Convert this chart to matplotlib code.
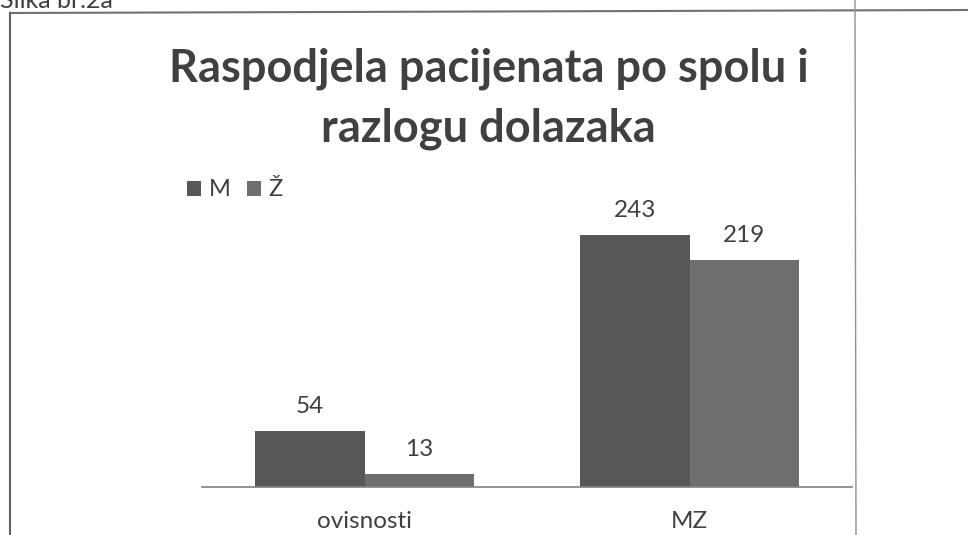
import numpy as np
import matplotlib.pyplot as plt
from matplotlib.lines import Line2D

categories = ['ovisnosti', 'MZ']
series_names = ['M', 'Ž']
m_values = [54, 243]
z_values = [13, 219]

plt.rcParams['font.family'] = ['Lato', 'DejaVu Sans']

fig = plt.figure(figsize=(9.68, 5.35), dpi=100)
ax = fig.add_axes([0.2087, 0.0897, 0.6715, 0.542])

x = np.arange(len(categories))
w = 0.338
colors = ['#575757', '#6e6e6e']
bars_m = ax.bar(x - w / 2, m_values, w, color=colors[0], label=series_names[0])
bars_z = ax.bar(x + w / 2, z_values, w, color=colors[1], label=series_names[1])

for bars in (bars_m, bars_z):
    for b in bars:
        ax.annotate(f'{int(b.get_height())}', (b.get_x() + b.get_width() / 2, b.get_height()),
                    xytext=(0, 10), textcoords='offset points', ha='center', va='bottom',
                    fontsize=17.5, color='#404040')

ax.set_xlim(-0.5, 1.5)
ax.set_ylim(0, 280)
ax.set_xticks(x)
ax.set_xticklabels(categories, fontsize=17.5, color='#404040')
ax.tick_params(axis='x', length=0, pad=17)
ax.set_yticks([])
for s in ['top', 'right', 'left']:
    ax.spines[s].set_visible(False)
ax.spines['bottom'].set_color('#808080')
ax.spines['bottom'].set_linewidth(1.2)

fig.text(0.505, 1 - 48 / 535, 'Raspodjela pacijenata po spolu i\nrazlogu dolazaka',
         ha='center', va='top', fontsize=32.5, fontweight='bold', color='#404040',
         linespacing=1.5)

fig.legend(handles=[bars_m, bars_z], labels=series_names, loc='center left',
           bbox_to_anchor=(166 / 968, 1 - 190 / 535), ncol=2, frameon=False,
           fontsize=17, handlelength=0.6, handleheight=0.6, handletextpad=0.3,
           columnspacing=0.7, labelcolor='#404040')

# border of the scanned figure
fig.add_artist(Line2D([10 / 968, 1], [1 - 13 / 535, 1 - 10 / 535], color='#707070', lw=1.5))
fig.add_artist(Line2D([10 / 968, 10 / 968], [1 - 13 / 535, 0], color='#606060', lw=1.5))
fig.add_artist(Line2D([855 / 968, 856 / 968], [1, 0], color='#909090', lw=1.0))

fig.text(0.0, 1 - 8 / 535, 'Slika br.2a', ha='left', va='baseline', fontsize=18, color='#404040')

fig.savefig('out.png', dpi=100)
